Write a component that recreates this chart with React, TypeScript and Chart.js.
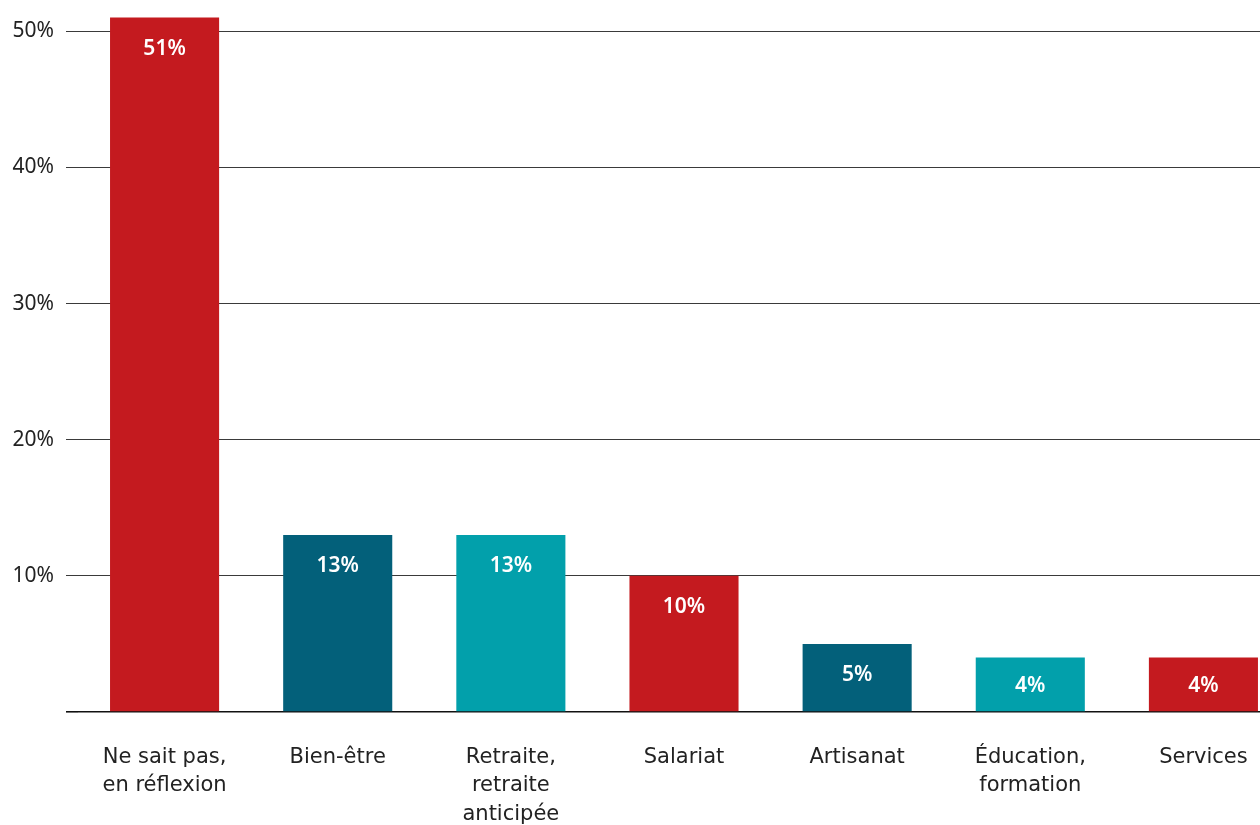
import React, { useEffect, useRef } from "react";
import { Chart, registerables } from "chart.js";

Chart.register(...registerables);

const categories: (string | string[])[] = [
  ["Ne sait pas,", "en réflexion"],
  "Bien-être",
  ["Retraite,", "retraite", "anticipée"],
  "Salariat",
  "Artisanat",
  ["Éducation,", "formation"],
  "Services",
];
const values: number[] = [51, 13, 13, 10, 5, 4, 4];
const barColors: string[] = ["#C41A1F", "#03607A", "#02A0AB", "#C41A1F", "#03607A", "#02A0AB", "#C41A1F"];
const yTickValues: number[] = [0, 10, 20, 30, 40, 50];

const valueLabels = {
  id: "valueLabels",
  afterDatasetsDraw(chart: any) {
    const ctx = chart.ctx;
    const meta = chart.getDatasetMeta(0);
    ctx.save();
    ctx.fillStyle = "#ffffff";
    ctx.font = "600 21px 'Noto Sans'";
    ctx.textAlign = "center";
    ctx.textBaseline = "middle";
    meta.data.forEach((el: any, i: number) => {
      const top = el.y;
      const base = el.base;
      const mid = (top + base) / 2;
      const y = Math.min(top + 31, mid + 2);
      ctx.fillText(values[i] + "%", el.x, y);
    });
    ctx.restore();
  },
};

export default function App() {
  const ref = useRef<HTMLCanvasElement | null>(null);
  useEffect(() => {
    if (!ref.current) return;
    const chart = new Chart(ref.current, {
      type: "bar",
      data: {
        labels: categories,
        datasets: [
          {
            data: values,
            backgroundColor: barColors,
            borderWidth: 0,
            categoryPercentage: 1,
            barPercentage: 0.63,
          },
        ],
      },
      options: {
        animation: false,
        responsive: false,
        devicePixelRatio: 1,
        layout: { padding: { top: 4, left: 0, right: 0, bottom: 0 } },
        plugins: {
          legend: { display: false },
          tooltip: { enabled: false },
        },
        scales: {
          x: {
            grid: { display: false, drawTicks: false },
            border: { display: false },
            ticks: {
              padding: 31,
              color: "#222222",
              maxRotation: 0,
              autoSkip: false,
              font: { family: "'DejaVu Sans'", size: 21, lineHeight: 1.36 },
            },
            afterFit: (scale: any) => {
              scale.height = 113;
              scale.paddingLeft = 0;
              scale.paddingRight = 0;
            },
          },
          y: {
            min: 0,
            max: 52,
            ticks: {
              stepSize: 10,
              includeBounds: false,
              padding: 12,
              color: "#222222",
              font: { family: "'Noto Sans'", size: 21 },
              callback: (v: any) => (v === 0 ? "" : v + "%"),
            },
            afterBuildTicks: (scale: any) => {
              scale.ticks = yTickValues.map((v) => ({ value: v }));
            },
            grid: {
              drawTicks: true,
              tickLength: 12,
              color: (c: any) => (c.tick && c.tick.value === 0 ? "#111111" : "#3a3a3a"),
              lineWidth: (c: any) => (c.tick && c.tick.value === 0 ? 1.6 : 1),
            },
            border: { display: false },
            afterFit: (scale: any) => {
              scale.width = 78;
              scale.paddingTop = 0;
              scale.paddingBottom = 0;
            },
          },
        },
      },
      plugins: [valueLabels],
    });
    return () => chart.destroy();
  }, []);
  return (
    <div style={{ position: "fixed", left: 0, top: 0, width: 1290, height: 825, overflow: "hidden", background: "#fff" }}>
      <canvas ref={ref} width={1290} height={825} style={{ display: "block" }} />
    </div>
  );
}
